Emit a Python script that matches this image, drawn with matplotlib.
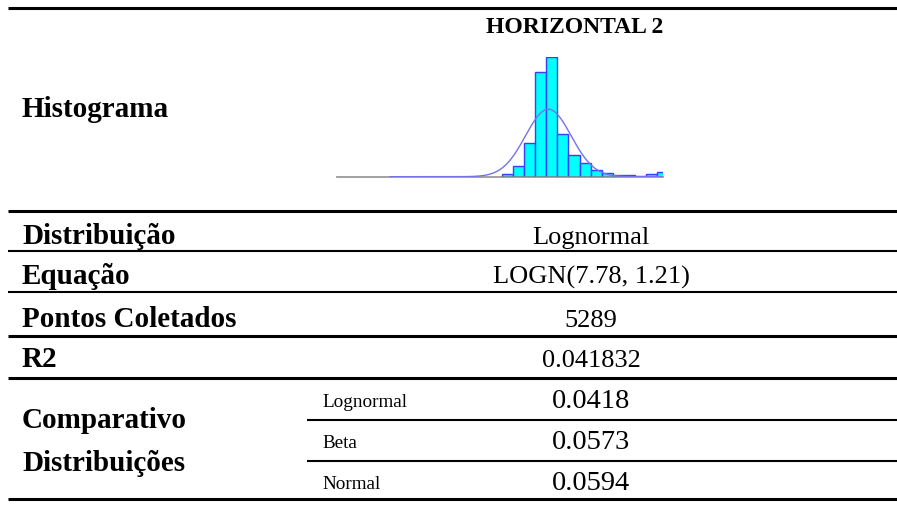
import numpy as np
import matplotlib
matplotlib.use("Agg")
import matplotlib.pyplot as plt
from matplotlib.lines import Line2D

# ---- data ----
title = "HORIZONTAL 2"
row_labels = ["Distribuição", "Equação", "Pontos Coletados", "R2"]
row_values = ["Lognormal", "LOGN(7.78, 1.21)", "5289", "0.041832"]
compare_dists = ["Lognormal", "Beta", "Normal"]
compare_values = ["0.0418", "0.0573", "0.0594"]

# histogram (bin index units), counts
bin_left = [0, 1, 2, 3, 4, 5, 6, 7, 8, 9, 10, 11, 12, 13, 14]
counts = [33, 152, 486, 1495, 1714, 609, 305, 195, 90, 52, 29, 19, 5, 43, 62]
fit_mu, fit_sigma, fit_peak = 4.18, 2.06, 966.0

W, H = 897, 505
fig = plt.figure(figsize=(W / 100, H / 100), dpi=100)
bg = fig.add_axes([0, 0, 1, 1])
bg.set_xlim(0, W)
bg.set_ylim(H, 0)
bg.axis("off")

serif = ["Liberation Serif", "DejaVu Serif"]
thick = 2.2
thin = 1.5

def hline(y, x0, x1, lw):
    bg.add_line(Line2D([x0, x1], [y, y], color="black", lw=lw, solid_capstyle="butt"))

hline(7.5, 8, W, thick)
hline(211, 8, W, thick)
hline(251, 8, W, thin)
hline(292, 8, W, thin)
hline(335.5, 8, W, thick)
hline(377.5, 8, W, thick)
hline(420, 307, W, thin)
hline(461, 307, W, thin)
hline(499, 8, W, thick)

label_x = 22
val_x = 591
bold_size = 21
val_size = 19

bg.text(575, 33, title, fontsize=17, fontweight="bold", family=serif,
        ha="center", va="baseline")
bg.text(label_x, 117, "Histograma", fontsize=bold_size, fontweight="bold", family=serif,
        ha="left", va="baseline")

baselines = [244, 284, 327, 367]
for lab, val, yb in zip(row_labels, row_values, baselines):
    bg.text(label_x, yb, lab, fontsize=bold_size, fontweight="bold", family=serif,
            ha="left", va="baseline")
    bg.text(val_x, yb, val, fontsize=val_size, family=serif, ha="center", va="baseline")

bg.text(label_x, 428, "Comparativo", fontsize=bold_size, fontweight="bold", family=serif,
        ha="left", va="baseline")
bg.text(label_x, 471, "Distribuições", fontsize=bold_size, fontweight="bold", family=serif,
        ha="left", va="baseline")

sub_base = [407, 448, 489]
for d, v, yb in zip(compare_dists, compare_values, sub_base):
    bg.text(322, yb, d, fontsize=13.8, family=serif, ha="left", va="baseline")
    bg.text(val_x, yb + 1, v, fontsize=20.5, family=serif, ha="center", va="baseline")

# ---- histogram inset ----
x0p, x1p = 337, 663.3
ybase, ytop = 176.7, 56.5
ax = fig.add_axes([x0p / W, 1 - ybase / H, (x1p - x0p) / W, (ybase - ytop) / H])
ax.axis("off")
ax.set_xlim(-14.9, 14.56)
ax.set_ylim(0, max(counts) * 1.004)
ax.bar(bin_left, counts, width=1, align="edge", color="#00FFFF",
       edgecolor="#3D3DFF", linewidth=1.0, zorder=2, clip_on=True)
ax.plot([-14.9, 14.56], [0, 0], color="#808080", lw=1.3, zorder=3, alpha=0.8, clip_on=False)
xc = np.linspace(-10.1, 14.56, 400)
yc = fit_peak * np.exp(-0.5 * ((xc - fit_mu) / fit_sigma) ** 2)
ax.plot(xc, yc, color="#7373EE", lw=1.0, zorder=4)

fig.savefig("out.png", dpi=100)
